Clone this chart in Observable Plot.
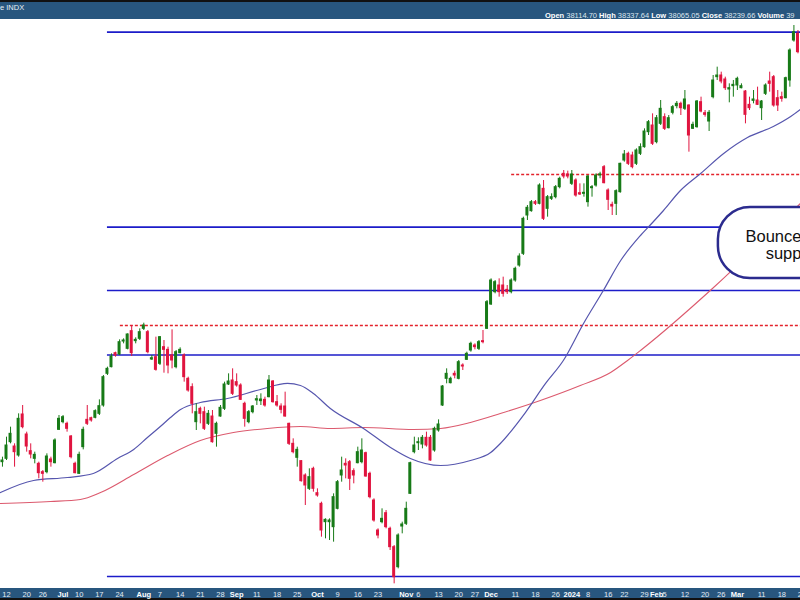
<!DOCTYPE html>
<html>
<head>
<meta charset="utf-8">
<script src="https://cdn.jsdelivr.net/npm/d3@7"></script>
<script src="https://cdn.jsdelivr.net/npm/@observablehq/plot@0.6"></script>
<style>
html,body{margin:0;padding:0;width:800px;height:600px;overflow:hidden;background:#fff;font-family:"Liberation Sans",Arial,sans-serif;}
#top{position:absolute;left:0;top:0;width:800px;height:17px;border-top:2px solid #111;background:#28567e;color:#fff;font-size:7.5px;white-space:nowrap;overflow:hidden}
#top .l{position:absolute;left:0;top:0;line-height:11px;color:#e8eef4}
#top .r{position:absolute;left:545px;top:8px;line-height:11px;color:#dfe6ee}
#top .r b{color:#fff}
#bot{position:absolute;left:0;top:588px;width:800px;height:10px;border-bottom:2px solid #111;background:#28567e}
#chart{position:absolute;left:0;top:20px;width:800px;height:580px;overflow:hidden}
</style>
</head>
<body>
<div id="top"><span class="l">e INDX</span><span class="r" id="hdr"></span></div>
<div id="bot"></div>
<div id="chart"></div>
<script>
// ---- header text ----
const headerLabels = ["Open", "High", "Low", "Close", "Volume"];
const headerValues = ["38114.70", "38337.64", "38065.05", "38239.66", "39"];

// ---- candles (trading-day index, first entry = index -2) ----
const startIdx = -2;
const open = [
33722,33929,33975,34205,34145,34021,34587,34311,34081,33975,
33906,33791,33791,33966,33915,34375,34481,34458,34283,33906,
33768,34136,34513,34536,34541,34596,34711,35148,35240,35433,
35415,35594,35493,35737,35599,35631,35769,35723,35346,35378,
35286,35516,35479,35401,35240,35433,35401,35079,34964,34481,
34665,34619,34458,34559,34320,34559,34665,35001,35056,35033,
34987,34734,34481,34619,34780,34771,34789,34826,35042,34757,
34697,34697,34458,34182,33989,33943,33745,33561,33837,33501,
33354,33101,33101,33032,33285,33745,33906,33929,33805,33915,
33929,34053,33768,33400,32986,33101,33225,33009,32756,32480,
33041,33078,33492,34067,34191,34173,34265,34265,34090,34366,
34711,35079,35019,35148,35079,35263,35341,35470,35539,35493,
35599,35769,36105,36275,36367,36367,36307,36275,36436,36643,
36804,37333,37393,37517,37494,37701,37425,37563,37586,37724,
37908,37899,37770,37816,37641,37632,37517,37710,37747,37885,
38000,37678,37480,37494,37655,38092,38184,38161,38046,38184,
38276,38483,38575,38345,38598,38690,38538,38750,38842,38874,
38805,38851,38529,38552,38897,38745,38630,38966,39242,39265,
39210,39072,39118,39127,39090,39044,38860,38915,38920,38814,
39012,39182,39242,38952,38966,38952,39196,39748,39840];
const high = [
33906,33998,34274,34412,34182,34596,34711,34343,34182,34067,
33929,33814,34044,33998,34251,34573,34573,34481,34297,33929,
34067,34412,34711,34550,34651,34789,35125,35240,35424,35447,
35617,35631,35700,35815,35645,35769,35847,35746,35401,35654,
35663,35608,35516,35755,35470,35507,35424,35102,35010,34734,
34688,34688,34642,34642,34481,34711,35033,35148,35217,35148,
35010,34757,34642,34711,34849,34872,34826,35125,35056,34849,
34734,34895,34467,34251,34136,33952,33768,33837,33860,33561,
33377,33147,33147,33492,33676,33998,33975,33952,33837,34136,
34251,34067,33791,33423,33009,33285,33262,33032,32779,32940,
33101,33377,33929,34274,34265,34297,34343,34297,34412,34513,
34987,35217,35102,35185,35332,35286,35447,35585,35562,35608,
35746,36160,36459,36436,36459,36482,36367,36459,36620,36804,
37310,37471,37540,37540,37770,37816,37609,37632,37747,37862,
37954,37945,37954,37839,37770,37770,37885,37747,37908,37930,
38023,37701,37517,37687,38055,38230,38207,38207,38253,38322,
38529,38644,38736,38713,38920,38736,38713,38851,38906,38897,
39058,38860,38621,38920,38966,38782,38782,39265,39380,39311,
39242,39150,39196,39242,39150,39058,38966,39058,39104,38920,
39150,39311,39265,39058,39035,39242,39633,39955,39886];
const low = [
33699,33860,33952,34182,33860,33998,34389,34067,33975,33906,
33699,33653,33768,33860,33906,34366,34458,34343,33975,33768,
33759,34099,34435,34481,34527,34573,34688,35125,35231,35378,
35401,35562,35479,35387,35562,35608,35746,35424,35332,35185,
35263,35157,35148,35217,35217,35424,35033,34895,34596,34366,
34458,34366,34435,34191,34136,34550,34642,34987,34849,34964,
34780,34412,34458,34596,34711,34711,34688,34817,34743,34688,
34596,34550,34159,34044,33860,33653,33331,33538,33515,33446,
32894,32871,32848,32825,33271,33653,33699,33538,33630,33906,
33906,33722,33423,33101,32871,33078,33009,32710,32250,32457,
32940,33055,33483,34044,34090,34113,34136,33943,34067,34343,
34697,35010,35010,35079,35065,35194,35332,35447,35479,35470,
35562,35760,36091,36252,36206,36206,36243,36252,36413,36620,
36781,37264,37379,37471,37480,37264,37310,37540,37563,37701,
37839,37839,37747,37586,37609,37586,37448,37586,37724,37840,
37770,37402,37333,37333,37641,38069,38023,37977,38023,38161,
38262,38437,38299,38322,38575,38506,38529,38722,38805,38713,
38782,38207,38520,38538,38750,38690,38492,38943,39196,39150,
39058,38888,38966,39058,39081,38598,38782,38874,38851,38644,
38989,39035,38828,38768,38897,38943,39104,39725,39564];
const close = [
33883,33952,34159,34320,34067,34527,34412,34145,34035,34030,
33777,33768,34007,33929,34228,34527,34550,34389,33998,33777,
34030,34375,34458,34504,34633,34702,35102,35217,35387,35401,
35585,35608,35691,35433,35617,35723,35815,35447,35364,35203,
35654,35479,35263,35332,35447,35479,35102,34918,34734,34619,
34596,34389,34596,34205,34458,34679,35001,35042,34872,34987,
34789,34527,34619,34697,34798,34794,34711,35056,34757,34711,
34651,34559,34182,34067,34099,33667,33607,33722,33561,33469,
32986,33133,33124,33446,33653,33814,33883,33699,33745,34067,
34090,33731,33446,33124,32917,33147,33032,32756,32342,32917,
33069,33285,33915,34159,34205,34265,34159,33952,34389,34449,
34973,35148,35079,35125,35309,35249,35424,35562,35516,35585,
35585,36137,36436,36413,36275,36252,36275,36436,36597,36767,
37287,37439,37517,37494,37747,37287,37586,37586,37724,37839,
37871,37871,37899,37609,37623,37646,37871,37724,37885,37900,
37779,37549,37457,37669,38046,38175,38046,38000,38230,38276,
38492,38621,38322,38676,38805,38529,38676,38828,38874,38814,
38934,38437,38584,38906,38768,38722,38750,39196,39265,39182,
39090,39090,39136,39219,39118,38722,38814,38934,38860,38906,
39127,39150,38851,38851,38943,39228,39610,39863,39587];

// ---- moving averages (read at sample points) ----
const fastIdx = [-1.5,6.7,15.1,21.5,27.5,31.5,34.9,38.1,40.6,43.1,48.0,54.7,62.9,69.6,72.8,76.0,80.2,88.4,95.1,100.0,107.5,114.9,119.9,122.3,128.5,133.5,137.9,142.9,147.8,152.1,157.0,160.0,162.7,166.9,171.9,177.6,183.5,189.9,194.2,196.6];
const fastVal = [33510,33676,33717,33773,33980,34104,34269,34421,34545,34656,34752,34808,34932,35015,34987,34877,34670,34394,34131,33980,33883,33952,34062,34187,34614,35015,35332,35843,36298,36712,37057,37236,37402,37678,37913,38189,38409,38561,38699,38796];
const slowIdx = [-1.5,10.9,18.3,23.3,31.5,39.9,48.0,56.2,64.6,72.8,80.2,88.4,100.8,107.5,114.9,122.3,132.2,142.1,149.6,153.8,157.0,175.1,196.6];
const slowVal = [33359,33386,33414,33510,33759,34021,34228,34338,34394,34421,34394,34407,34380,34394,34476,34600,34780,34987,35166,35332,35470,36339,37499];

// ---- horizontal levels ----
const supportLevels = [39863, 37172, 36298, 35408, 32351];
const supportStart = 25;
const resistLevels = [35815, 37899];
const resistStart = [28.2, 125.1];

// ---- callout ----
const boxIdx = [176.3, 215];
const boxVal = [36464, 37443];
const noteIdx = [183.0, 188.0];
const noteVal = [36974, 36726];
const noteText = ["Bounce off", "support"];

// ---- axis ticks ----
const dayTickIdx = [0,5,9,18,23,28,38,43,48,53,62,67,72,82,87,92,102,107,112,116,126,131,136,144,149,153,158,163,168,173,177,187,192,197];
const dayTickLabels = ["12","20","26","10","17","24","7","14","21","28","11","18","25","9","16","23","6","13","20","27","11","18","26","8","16","22","29","5","12","20","26","11","18","25"];
const monthTickIdx = [14,34,57,77,99,120,140,161,181];
const monthTickLabels = ["Jul","Aug","Sep","Oct","Nov","Dec","2024","Feb","Mar"];

// scale extents
const xMin = -1.486, xMax = 196.63;
const yMin = 32185.6, yMax = 40024;

const GREEN = "#177a17", RED = "#e0143f";

// header
document.getElementById("hdr").innerHTML = headerLabels.map((l, k) => `<b>${l}</b> ${headerValues[k]}`).join(" ");

const candles = open.map((o, k) => ({i: startIdx + k, open: o, high: high[k], low: low[k], close: close[k]}));
const col = d => d.close >= d.open ? GREEN : RED;
const fast = fastIdx.map((x, k) => ({x, y: fastVal[k]}));
const slow = slowIdx.map((x, k) => ({x, y: slowVal[k]}));
const supports = supportLevels.map(p => ({p, s: supportStart}));
const resists = resistLevels.map((p, k) => ({p, s: resistStart[k]}));
const box = [{x1: boxIdx[0], x2: boxIdx[1], y1: boxVal[0], y2: boxVal[1]}];
const notes = noteText.map((t, k) => ({x: noteIdx[k], y: noteVal[k], t}));
const dayMap = new Map(dayTickIdx.map((d, k) => [d, dayTickLabels[k]]));
const monMap = new Map(monthTickIdx.map((d, k) => [d, monthTickLabels[k]]));

const chart = Plot.plot({
  width: 800, height: 580,
  marginTop: 0, marginRight: 0, marginBottom: 12, marginLeft: 0,
  style: {background: "transparent", fontFamily: "Liberation Sans, Arial, sans-serif"},
  x: {domain: [xMin, xMax], label: null},
  y: {domain: [yMin, yMax], axis: null},
  color: {type: "identity"},
  marks: [
    Plot.ruleY(supports, {y: "p", x1: "s", x2: xMax, stroke: "#1c1cc9", strokeWidth: 1.6}),
    Plot.ruleY(resists, {y: "p", x1: "s", x2: xMax, stroke: "#e3222b", strokeWidth: 1.3, strokeDasharray: "3,2"}),
    Plot.line(slow, {x: "x", y: "y", curve: "monotone-x", stroke: "#dc5a6e", strokeWidth: 1.1}),
    Plot.line(fast, {x: "x", y: "y", curve: "monotone-x", stroke: "#5656ae", strokeWidth: 1.2}),
    Plot.ruleX(candles, {x: "i", y1: "low", y2: "high", stroke: col, strokeWidth: 1}),
    Plot.rect(candles, {x1: d => d.i - 0.37, x2: d => d.i + 0.37, y1: "open", y2: "close", fill: col, insetTop: -0.5, insetBottom: -0.5}),
    Plot.rect(box, {x1: "x1", x2: "x2", y1: "y1", y2: "y2", rx: 32, fill: "white", stroke: "#2b2b8e", strokeWidth: 2.5}),
    Plot.text(notes, {x: "x", y: "y", text: "t", textAnchor: "start", lineAnchor: "bottom", fontSize: 16.5, fill: "#111"}),
    Plot.axisX({ticks: dayTickIdx, tickFormat: d => dayMap.get(d), tickSize: 0, tickPadding: 3, fontSize: 7.5, fill: "#e4ebf2", label: null}),
    Plot.axisX({ticks: monthTickIdx, tickFormat: d => monMap.get(d), tickSize: 0, tickPadding: 3, fontSize: 7.5, fontWeight: "bold", fill: "#ffffff", label: null})
  ]
});
document.getElementById("chart").appendChild(chart);
</script>
</body>
</html>
